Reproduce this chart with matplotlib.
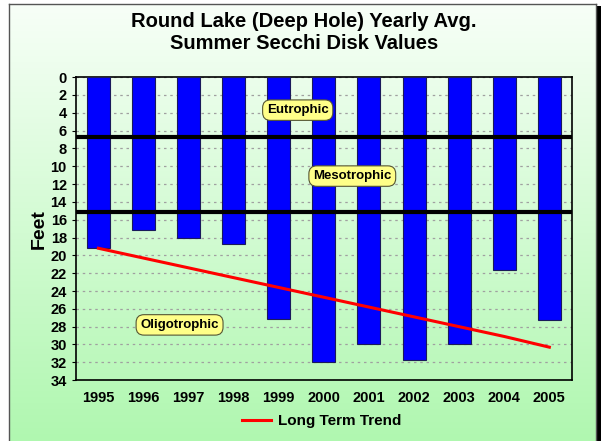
import matplotlib.pyplot as plt
import numpy as np
from matplotlib.patches import Rectangle

plt.rcParams['font.family'] = ['Liberation Sans', 'DejaVu Sans']

years = ['1995', '1996', '1997', '1998', '1999', '2000', '2001', '2002', '2003', '2004', '2005']
secchi = [19.2, 17.2, 18.0, 18.7, 27.1, 32.0, 30.0, 31.7, 30.0, 21.6, 27.3]
trend = [19.2, 20.3, 21.4, 22.5, 23.6, 24.7, 25.8, 26.9, 28.0, 29.1, 30.3]
zone_limits = [6.7, 15.1]
zone_names = ['Eutrophic', 'Mesotrophic', 'Oligotrophic']
zone_label_pos = [(4.42, 3.7), (5.63, 11.1), (1.8, 27.8)]

W, H = 602, 441
fig = plt.figure(figsize=(W / 100, H / 100), dpi=100)
fig.patch.set_facecolor('white')

# chart area with green gradient, gray frame and black drop shadow on the right
L, T, R = 9, 4, 596
fig.patches.append(Rectangle((R / W, 0), 5 / W, (H - T - 2) / H, transform=fig.transFigure,
                             facecolor='black', edgecolor='none', zorder=-12))
bg = fig.add_axes([L / W, 0, (R - L) / W, (H - T) / H], zorder=-10)
grad = np.linspace(0, 1, 256).reshape(-1, 1)
top = np.array([0.97, 1.0, 0.97])
bot = np.array([0.69, 0.97, 0.69])
img = top + (bot - top) * grad[:, :, None]
bg.imshow(img, aspect='auto', extent=[0, 1, 0, 1], origin='upper')
bg.set_xticks([])
bg.set_yticks([])
for s in bg.spines.values():
    s.set_color('#555555')
    s.set_linewidth(1.0)
bg.spines['bottom'].set_visible(False)

ax = fig.add_axes([0.126, 0.138, 0.824, 0.687])
ax.patch.set_alpha(0)
x = np.arange(len(years))

ax.bar(x, secchi, width=0.51, color='#0000ff', edgecolor='#1a1a5a', linewidth=0.8, zorder=3)
for z in zone_limits:
    ax.axhline(z, color='black', linewidth=3, zorder=4)
ax.plot(x, trend, color='red', linewidth=2.2, zorder=5, label='Long Term Trend')

for name, (px, py) in zip(zone_names, zone_label_pos):
    ax.text(px, py, name, ha='center', va='center', fontsize=9.5, fontweight='bold', zorder=6,
            bbox=dict(boxstyle='round,pad=0.32,rounding_size=0.6', facecolor='#ffff88',
                      edgecolor='#555533', linewidth=0.8))

ax.set_ylim(34, 0)
ax.set_xlim(-0.5, 10.5)
ax.set_yticks(np.arange(0, 35, 2))
ax.set_xticks(x)
ax.set_xticklabels(years)
ax.tick_params(axis='both', labelsize=10.5, length=3)
ax.tick_params(axis='x', length=0, pad=8)
for lab in ax.get_xticklabels() + ax.get_yticklabels():
    lab.set_fontweight('bold')
ax.yaxis.grid(True, linestyle=(0, (2, 3)), color='#a0a0a0', linewidth=0.9, zorder=0)
for s in ax.spines.values():
    s.set_linewidth(1.2)

ax.set_ylabel('Feet', fontsize=14, fontweight='bold', labelpad=2)
fig.text(0.505, 0.972, 'Round Lake (Deep Hole) Yearly Avg.\nSummer Secchi Disk Values',
         ha='center', va='top', fontsize=14.5, fontweight='bold', linespacing=1.15)

fig.legend(loc='center', bbox_to_anchor=(0.534, 0.045), frameon=False,
           prop={'weight': 'bold', 'size': 11}, handlelength=1.9, handletextpad=0.45)

fig.savefig('out.png', dpi=100)
